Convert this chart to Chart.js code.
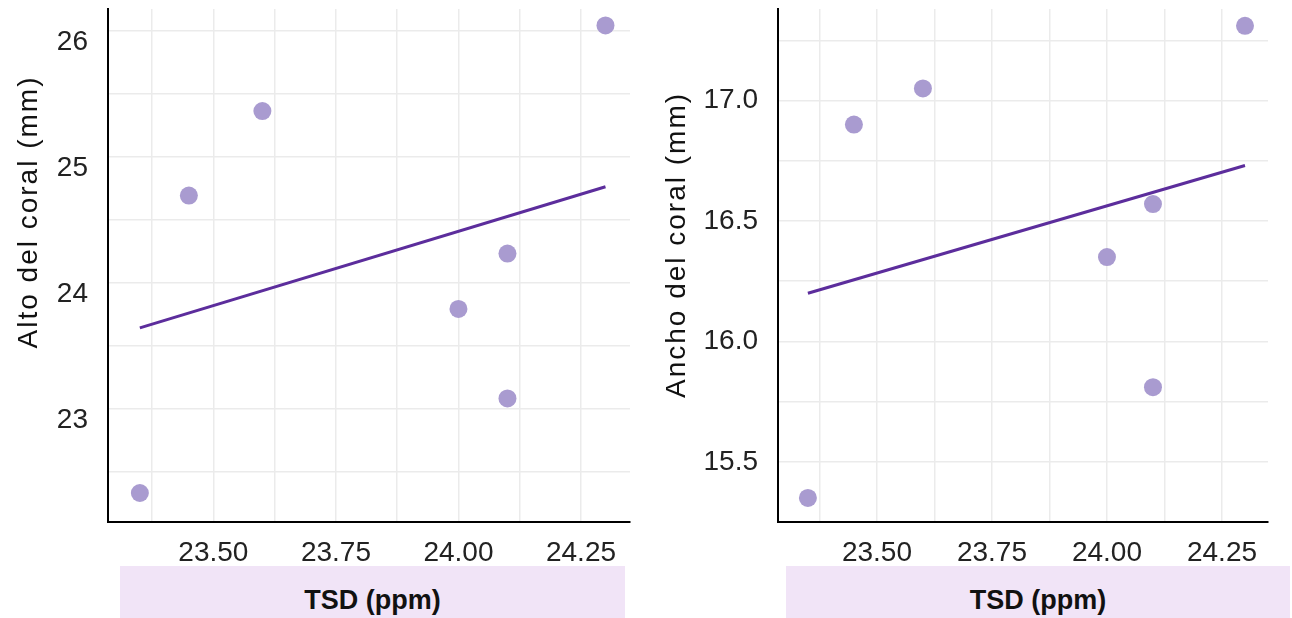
<!DOCTYPE html>
<html>
<head>
<meta charset="utf-8">
<script src="https://cdn.jsdelivr.net/npm/chart.js@4"></script>
<style>
    body { margin: 0; width: 1292px; height: 618px; background: #fff; overflow: hidden; font-family: 'Liberation Sans', Arial, sans-serif; }
    .panel { position: absolute; top: 0; height: 566px; }
    .xbox { position: absolute; top: 566px; height: 52px; background: #f1e4f7; color: #111; overflow: hidden;
            font-weight: bold; font-size: 27px; line-height: 68px; text-align: center; }
    .ytitle { position: absolute; width: 400px; height: 36px; margin-left: -200px; margin-top: -18px;
              line-height: 36px; text-align: center; font-size: 28px; letter-spacing: 2px; color: #111;
              transform: rotate(-90deg); white-space: nowrap; }
</style>
</head>
<body>
<div class="panel" style="left:0;width:640px"><canvas id="left"></canvas></div>
<div class="panel" style="left:650px;width:642px"><canvas id="right"></canvas></div>
<div class="ytitle" style="left:28px;top:212px">Alto del coral (mm)</div>
<div class="ytitle" style="left:676px;top:245px">Ancho del coral (mm)</div>
<div class="xbox" style="left:120px;width:505px">TSD (ppm)</div>
<div class="xbox" style="left:786px;width:504px">TSD (ppm)</div>
<script>
// values
const tsd = [23.35, 23.45, 23.6, 24.0, 24.1, 24.1, 24.3];
const alto = [22.33, 24.69, 25.36, 23.79, 24.23, 23.08, 26.04];
const ancho = [15.35, 16.90, 17.05, 16.35, 16.57, 15.81, 17.31];

// fitted trend line ends, also
const fitX = [23.35, 24.3];
const altoFit = [23.64, 24.76];
const anchoFit = [16.20, 16.73];

const font = 'Liberation Sans, Arial, sans-serif';
const pointColor = '#a99bd0';
const lineColor = '#5c2d9c';
const gridColor = '#ebebeb';

function pairs(xs, ys) {
    return xs.map((x, i) => ({ x, y: ys[i] }));
}

function onStep(v, step) {
    return Math.abs(v / step - Math.round(v / step)) < 1e-6;
}

function loadChart(canvas, ys, fit, yOpts, pad) {
    return new Chart(canvas, {
        type: 'scatter',
        data: {
            datasets: [{
                data: pairs(tsd, ys),
                backgroundColor: pointColor,
                borderWidth: 0,
                pointRadius: 9,
                pointHoverRadius: 9
            }, {
                data: pairs(fitX, fit),
                showLine: true,
                borderColor: lineColor,
                borderWidth: 3,
                pointRadius: 0
            }]
        },
        options: {
            responsive: true,
            maintainAspectRatio: false,
            animation: false,
            layout: { padding: { left: pad.left, right: pad.right, top: 8, bottom: 0 } },
            plugins: { legend: { display: false }, tooltip: { enabled: false } },
            scales: {
                x: {
                    type: 'linear',
                    min: 23.285,
                    max: 24.35,
                    afterFit: scale => {
                        scale.height = 44;
                        scale.paddingLeft = 0;
                        scale.paddingRight = 0;
                    },
                    border: { color: '#000', width: 2 },
                    grid: { color: gridColor, lineWidth: 1.5, drawTicks: false },
                    ticks: {
                        stepSize: 0.125,
                        includeBounds: false,
                        autoSkip: false,
                        maxRotation: 0,
                        padding: 14,
                        color: '#222',
                        font: { family: font, size: 28 },
                        callback: v => onStep(v, 0.25) ? v.toFixed(2) : ''
                    }
                },
                y: {
                    min: yOpts.min,
                    max: yOpts.max,
                    afterFit: scale => {
                        scale.width = pad.yWidth;
                        scale.paddingTop = 0;
                        scale.paddingBottom = 0;
                    },
                    border: { color: '#000', width: 2 },
                    grid: { color: gridColor, lineWidth: 1.5, drawTicks: false },
                    ticks: {
                        stepSize: yOpts.step,
                        includeBounds: false,
                        autoSkip: false,
                        padding: 20,
                        labelOffset: yOpts.labelOffset,
                        color: '#222',
                        font: { family: font, size: 28 },
                        callback: v => onStep(v, yOpts.labelStep) ? v.toFixed(yOpts.decimals) : ''
                    }
                }
            }
        }
    });
}

loadChart(document.getElementById('left'), alto, altoFit,
    { min: 22.1, max: 26.17, step: 0.5, labelStep: 1, decimals: 0, labelOffset: 12 },
    { left: 8, right: 10, yWidth: 100 });

loadChart(document.getElementById('right'), ancho, anchoFit,
    { min: 15.25, max: 17.38, step: 0.25, labelStep: 0.5, decimals: 1, labelOffset: 0 },
    { left: 2, right: 24, yWidth: 126 });
</script>
</body>
</html>
